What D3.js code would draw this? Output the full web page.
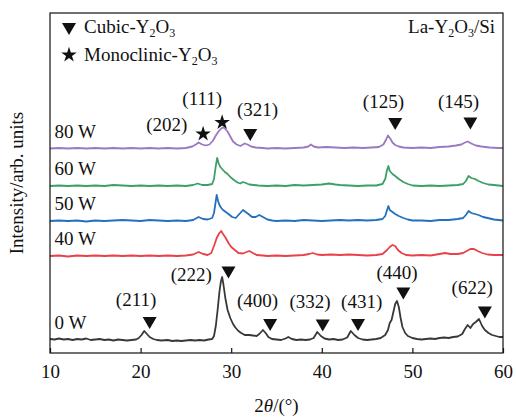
<!DOCTYPE html>
<html>
<head>
<meta charset="utf-8">
<script src="https://cdn.jsdelivr.net/npm/d3@7"></script>
<style>
  body { margin: 0; background: #fff; }
  svg text { font-family: "Liberation Serif", "Times New Roman", serif; fill: #111; }
</style>
</head>
<body>
<svg id="chart" width="516" height="420"></svg>
<script>
// XRD patterns, [2theta, counts above own baseline]
const trace0W = [[10,1],[10.5,0.5],[11,1.5],[11.5,0.5],[12,1],[12.5,0],[13,1],[13.5,0.5],[14,1.5],[14.5,0],[15,0.5],[15.5,1],[16,0],[16.5,0.5],[17,-0.5],[17.5,0.5],[18,0],[18.5,-0.5],[19,0],[19.5,0.5],[19.8,2],[20.1,5],[20.4,9],[20.7,6],[21,3],[21.4,1],[21.8,0],[22.3,-0.5],[23,0],[23.5,-1],[24,-0.5],[24.5,-1],[25,-0.5],[25.5,0],[26,-0.5],[26.5,0],[27,-0.5],[27.5,0.5],[27.9,1],[28.1,4],[28.3,14],[28.5,30],[28.7,48],[28.85,58],[29,63],[29.15,55],[29.35,42],[29.6,30],[29.9,22],[30.2,16],[30.5,12],[30.8,9],[31.1,7],[31.5,5],[32,5],[32.4,4.5],[32.8,4],[33.1,6],[33.5,10],[33.8,7],[34.1,3],[34.5,1],[35,0.5],[35.5,0],[36,1.5],[36.3,3],[36.7,1],[37.2,0],[37.7,0.5],[38.2,0],[38.7,0.5],[39.1,2],[39.5,8],[39.9,4],[40.3,1.5],[40.8,0.5],[41.3,1],[41.8,0],[42.3,0.5],[42.8,2.5],[43.2,9],[43.6,5],[44,2],[44.5,0.5],[45,0],[45.5,0.5],[46,1],[46.5,2],[47,5],[47.3,10],[47.5,17],[47.7,20],[47.9,28],[48.1,36],[48.3,39],[48.5,33],[48.7,22],[48.9,13],[49.2,7],[49.5,4],[50,2],[50.5,1],[51,0.5],[51.5,1],[52,1.5],[52.5,1],[53,2],[53.5,2.5],[54,2],[54.5,3],[55,3.5],[55.5,6],[55.8,11],[56.1,15],[56.4,12],[56.7,16],[57,18],[57.35,21],[57.7,14],[58,10],[58.4,7],[58.8,5],[59.2,4],[59.6,3],[60,3]];
const trace40W = [[10,0],[11,0.5],[12,-0.5],[13,0.5],[14,0],[15,0.5],[16,0],[17,0.5],[18,0],[19,0.5],[20,0],[21,0.5],[22,0],[23,0.5],[24,0],[25,0.5],[25.8,1.5],[26.4,4],[26.9,2],[27.4,1],[27.8,3],[28.1,10],[28.4,18],[28.7,23],[28.9,25],[29.1,22],[29.4,18],[29.7,13],[30,9],[30.4,6],[30.8,3],[31.3,2.5],[31.7,4],[32,5],[32.4,3],[32.8,1],[33.5,0.5],[34,0],[35,0.5],[36,0],[37,0.5],[38,1],[38.6,2],[39,3],[39.5,1.5],[40,1],[41,1.5],[42,1],[43,1.5],[44,1],[45,0.5],[46,1],[46.7,2],[47.2,6],[47.5,9],[47.8,11],[48.1,10],[48.4,6],[48.8,3],[49.3,1],[50,0.5],[51,1],[52,0.5],[53,2],[53.6,3],[54.2,2],[55,2],[55.6,3],[56,5],[56.4,7],[56.8,7],[57.2,5],[57.7,3],[58.3,1.5],[59,1],[60,1]];
const trace50W = [[10,0],[11,0.5],[12,0],[13,0.5],[14,-0.5],[15,0.5],[16,0],[17,0.5],[18,1],[19,0.5],[20,0],[21,1],[22,0.5],[23,0],[24,0.5],[25,0],[25.8,1],[26.4,4],[26.9,2],[27.4,1.5],[27.9,3],[28.1,8],[28.3,20],[28.4,26],[28.55,20],[28.7,16],[28.9,13],[29.1,11],[29.4,9],[29.7,7],[30.1,4],[30.5,3],[30.8,6],[31.1,9],[31.3,11],[31.6,9],[31.9,7],[32.3,4],[32.7,4],[33.1,6],[33.5,4],[34,1.5],[34.5,0.5],[35,0],[36,0.5],[37,0],[38,1],[39,0.5],[40,0],[41,0.5],[42,1],[43,0.5],[44,1],[45,0.5],[46,1],[46.7,2],[47,5],[47.2,11],[47.35,15],[47.5,11],[47.8,9],[48.1,7],[48.5,5],[49,3],[49.5,1.5],[50,0.5],[51,0.5],[52,0],[53,1],[54,1],[55,2],[55.6,3],[55.9,6],[56.2,10],[56.5,8],[56.9,7],[57.3,6],[57.8,4],[58.3,3],[59,1.5],[60,0.5]];
const trace60W = [[10,0],[11,0.5],[12,0],[13,0.5],[14,0],[15,0.5],[16,0],[17,1],[18,0.5],[19,0],[20,0.5],[21,0],[22,0.5],[23,0],[24,0.5],[25,0],[25.8,1],[26.3,2.5],[26.8,1],[27.4,1],[27.9,2],[28.1,7],[28.3,20],[28.45,28],[28.6,23],[28.8,19],[29,17],[29.3,14],[29.6,12],[29.9,9],[30.3,6],[30.7,3.5],[31,2.5],[31.3,4],[31.6,3],[32,1.5],[32.5,1],[33,0.5],[34,0],[35,0.5],[36,0],[37,1],[38,0.5],[39,1],[40,1.5],[40.8,2.5],[41.5,1.5],[42,1],[43,0.5],[44,0],[45,0.5],[46,0.5],[46.7,2],[47,7],[47.2,16],[47.35,20],[47.5,15],[47.8,12],[48.1,10],[48.5,7],[49,4],[49.5,2],[50,0.5],[51,0],[52,0.5],[53,0],[54,0.5],[55,1],[55.6,2],[55.9,5],[56.2,10],[56.5,8],[56.9,7],[57.3,5],[57.8,3],[58.4,1.5],[59,1],[60,0]];
const trace80W = [[10,0],[11,0.5],[12,0],[13,0.5],[14,0],[15,0.5],[16,0],[17,0.5],[18,0],[19,0.5],[20,0],[21,0.5],[22,0],[23,0.5],[24,0],[25,0.5],[25.7,2],[26.1,4],[26.4,6],[26.8,4],[27.2,3],[27.6,4],[28,8],[28.3,13],[28.6,17],[28.9,20],[29.1,21],[29.3,20],[29.6,17],[29.9,12],[30.2,7],[30.6,4],[31,2.5],[31.5,5],[31.8,4],[32.2,2],[32.7,1],[33.5,0.5],[34,0],[35,0.5],[36,0],[37,0.5],[38,1],[38.5,2],[38.8,4],[39.1,2],[39.6,1],[40.5,1.5],[41.5,1],[42.5,0.5],[43.5,1],[44.5,0.5],[45.5,1],[46.3,1.5],[46.8,4],[47.1,9],[47.3,13],[47.55,10],[47.8,6],[48.1,3.5],[48.5,2],[49,1],[50,0.5],[51,1],[52,0.5],[53,1.5],[54,2],[54.8,3],[55.4,4],[55.8,6],[56.1,7],[56.5,5],[57,3],[57.6,2],[58.5,1],[59.5,0.5],[60,0.5]];

const powers = ["0 W", "40 W", "50 W", "60 W", "80 W"];
const offsets = [13, 97, 132, 167, 204.5];
const traces = [trace0W, trace40W, trace50W, trace60W, trace80W];
const colors = ["#383838", "#e8414a", "#2470bf", "#3c9f66", "#9a78c2"];

const xTicks = [10, 20, 30, 40, 50, 60];

// peak markers: [hkl, 2theta, intensity]
const cubicPeaks = [["(211)", 21.0, 32], ["(222)", 29.7, 82.5], ["(400)", 34.3, 30], ["(332)", 40.1, 29.5], ["(431)", 44.0, 30], ["(440)", 49.0, 61.5], ["(622)", 58.0, 42.5], ["(321)", 32.1, 220], ["(125)", 48.1, 231], ["(145)", 56.4, 231.5]];
const monoPeaks = [["(202)", 26.9, 219], ["(111)", 29.0, 230.5]];
// hkl text anchors: [hkl, 2theta, intensity]
const hklLabels = [["(211)", 19.5, 47], ["(222)", 25.6, 72], ["(400)", 32.9, 46], ["(332)", 38.7, 45], ["(431)", 44.4, 45], ["(440)", 48.3, 74], ["(622)", 56.6, 59], ["(202)", 22.9, 222], ["(111)", 26.8, 248], ["(321)", 32.9, 237], ["(125)", 46.8, 245], ["(145)", 55.1, 245]];

const svg = d3.select("#chart");
const margin = { top: 13, right: 13, bottom: 67, left: 50 };
const width = 516, height = 420;

const x = d3.scaleLinear().domain([10, 60]).range([margin.left, width - margin.right]);
const y = d3.scaleLinear().domain([0, 340]).range([height - margin.bottom, margin.top]);

const line = d3.line().x((d) => x(d[0])).y((d) => y(d[1]));

traces.forEach((tr, i) => {
  svg.append("path")
    .datum(tr.map((d) => [d[0], d[1] + offsets[i]]))
    .attr("fill", "none")
    .attr("stroke", colors[i])
    .attr("stroke-width", 1.8)
    .attr("stroke-linejoin", "round")
    .attr("d", line);

  svg.append("text")
    .attr("x", x(10.5))
    .attr("y", y(offsets[i] + 11))
    .attr("font-size", 19)
    .text(powers[i]);
});

// frame
svg.append("rect")
  .attr("x", x(10)).attr("y", y(340))
  .attr("width", x(60) - x(10)).attr("height", y(0) - y(340))
  .attr("fill", "none").attr("stroke", "#111").attr("stroke-width", 1.2);

const xAxis = svg.append("g")
  .attr("transform", `translate(0,${y(0)})`)
  .call(d3.axisBottom(x).tickValues(xTicks).tickSizeInner(-5).tickSizeOuter(0).tickPadding(12));
xAxis.select(".domain").remove();
xAxis.selectAll("line").attr("stroke", "#111").attr("stroke-width", 1.2);
xAxis.selectAll("text").attr("font-size", 19).attr("font-family", "Liberation Serif").attr("fill", "#111");

// markers
const tri = d3.symbol().type(d3.symbolTriangle).size(85);
svg.append("g").selectAll("path")
  .data(cubicPeaks).join("path")
  .attr("d", tri)
  .attr("transform", (d) => `translate(${x(d[1])},${y(d[2])}) rotate(180)`)
  .attr("fill", "#111");

const star = d3.symbol().type(d3.symbolStar).size(75);
svg.append("g").selectAll("path")
  .data(monoPeaks).join("path")
  .attr("d", star)
  .attr("transform", (d) => `translate(${x(d[1])},${y(d[2])})`)
  .attr("fill", "#111");

svg.append("g").selectAll("text")
  .data(hklLabels).join("text")
  .attr("x", (d) => x(d[1]))
  .attr("y", (d) => y(d[2]))
  .attr("text-anchor", "middle")
  .attr("font-size", 19)
  .text((d) => d[0]);

// legend
function formula(g, xPos, yPos, pre, anchor) {
  const t = g.append("text").attr("x", xPos).attr("y", yPos).attr("font-size", 19)
    .attr("text-anchor", anchor || "start");
  t.append("tspan").text(pre + "Y");
  t.append("tspan").attr("font-size", 12).attr("dy", 4).text("2");
  t.append("tspan").attr("dy", -4).text("O");
  t.append("tspan").attr("font-size", 12).attr("dy", 4).text("3");
  return t;
}
const legend = svg.append("g");
legend.append("path").attr("d", tri).attr("transform", "translate(69,27) rotate(180)").attr("fill", "#111");
formula(legend, 84, 33, "Cubic-");
legend.append("path").attr("d", star).attr("transform", "translate(69,55)").attr("fill", "#111");
formula(legend, 84, 61, "Monoclinic-");

const tag = formula(svg, x(60) - 8, 33, "La-", "end");
tag.append("tspan").attr("dy", -4).text("/Si");

// axis titles
svg.append("text")
  .attr("transform", `translate(23,${(y(0) + y(340)) / 2}) rotate(-90)`)
  .attr("text-anchor", "middle")
  .attr("font-size", 19)
  .text("Intensity/arb. units");

const xt = svg.append("text")
  .attr("x", (x(10) + x(60)) / 2)
  .attr("y", 412)
  .attr("text-anchor", "middle")
  .attr("font-size", 19);
xt.append("tspan").text("2");
xt.append("tspan").attr("font-style", "italic").text("θ");
xt.append("tspan").text("/(°)");
</script>
</body>
</html>
